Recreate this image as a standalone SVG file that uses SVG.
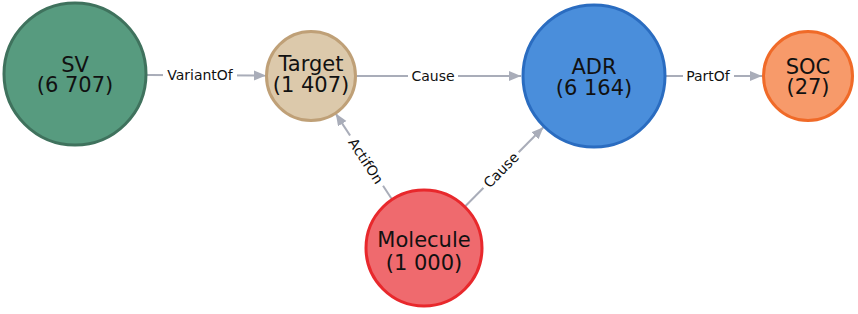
<svg xmlns="http://www.w3.org/2000/svg" width="858" height="314" viewBox="0 0 858 314">
<style>
.node-label{font-family:"DejaVu Sans",sans-serif;font-size:21px;fill:#111;text-anchor:middle}
.edge-label{font-family:"DejaVu Sans",sans-serif;font-size:14px;fill:#111;text-anchor:middle;dominant-baseline:central}
.edge{stroke:#a9adb9;stroke-width:2;fill:none;marker-end:url(#arrow)}
.lbg{fill:#fff}
</style>
<defs>
<marker id="arrow" markerUnits="userSpaceOnUse" markerWidth="13" markerHeight="11" refX="12" refY="5" orient="auto">
<path d="M0,0 L12,5 L0,10 z" fill="#a9adb9"/>
</marker>
</defs>
<rect width="858" height="314" fill="#fff"/>
<g id="connectors">
<g id="e-sv-target">
<path class="edge" d="M147,75 L266,75.5"/>
<rect class="lbg" x="163" y="67" width="74" height="16"/>
<text class="edge-label" x="200" y="75">VariantOf</text>
</g>
<g id="e-target-adr">
<path class="edge" d="M357,76 L521,76"/>
<rect class="lbg" x="408" y="68" width="50" height="16"/>
<text class="edge-label" x="433" y="76">Cause</text>
</g>
<g id="e-adr-soc">
<path class="edge" d="M666,76 L762,76"/>
<rect class="lbg" x="683" y="68" width="51" height="16"/>
<text class="edge-label" x="708" y="76">PartOf</text>
</g>
<g id="e-molecule-target">
<path class="edge" d="M391.6,198.7 L335.7,113.6"/>
<g transform="translate(366,161) rotate(56.7)">
<rect class="lbg" x="-30" y="-8" width="60" height="16"/>
<text class="edge-label" x="0" y="0">ActifOn</text>
</g>
</g>
<g id="e-molecule-adr">
<path class="edge" d="M465.5,206 L543.4,127.2"/>
<g transform="translate(501,170) rotate(-45.3)">
<rect class="lbg" x="-25" y="-8" width="50" height="16"/>
<text class="edge-label" x="0" y="0">Cause</text>
</g>
</g>
</g>
<g id="node-sv">
<circle cx="75" cy="74" r="71" fill="#579b7f" stroke="#3f725d" stroke-width="3"/>
<text class="node-label" x="75" y="72">SV<tspan x="75" dy="20">(6 707)</tspan></text>
</g>
<g id="node-target">
<circle cx="311" cy="76" r="44.5" fill="#dcc9ab" stroke="#bfa077" stroke-width="3"/>
<text class="node-label" x="311" y="71">Target<tspan x="311" dy="21">(1 407)</tspan></text>
</g>
<g id="node-adr">
<circle cx="594" cy="76" r="71" fill="#4a8edb" stroke="#2a6cc0" stroke-width="3"/>
<text class="node-label" x="594" y="74">ADR<tspan x="594" dy="21">(6 164)</tspan></text>
</g>
<g id="node-soc">
<circle cx="808" cy="76" r="44.5" fill="#f79a6a" stroke="#f06a28" stroke-width="3"/>
<text class="node-label" x="808" y="74">SOC<tspan x="808" dy="20">(27)</tspan></text>
</g>
<g id="node-molecule">
<circle cx="424" cy="248" r="58" fill="#ef6a6e" stroke="#e8282c" stroke-width="3"/>
<text class="node-label" x="424" y="247">Molecule<tspan x="424" dy="23">(1 000)</tspan></text>
</g>
</svg>
